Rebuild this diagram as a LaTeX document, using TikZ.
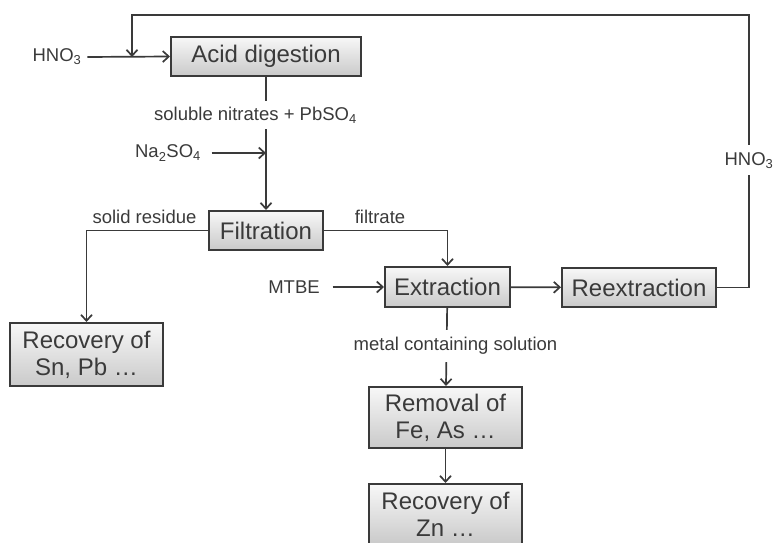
\documentclass[tikz,border=0pt]{standalone}
\usepackage{fontspec}
\setmainfont{Liberation Sans}
\usetikzlibrary{arrows.meta}
\definecolor{ink}{HTML}{3a3a3a}

\begin{document}
\begin{tikzpicture}[x=1pt, y=-1pt, color=ink, line width=1.7pt,
  >={Straight Barb[length=6pt, width=11pt]},
  box/.style={draw=ink, line width=2pt, top color=gray!6, bottom color=gray!42,
    font=\fontsize{24}{27}\selectfont, align=center, inner sep=0pt},
  lbl/.style={font=\fontsize{18.5}{22}\selectfont, inner sep=2pt}]
\useasboundingbox (0,0) rectangle (774,542);

\node[box, minimum width=190pt, minimum height=39pt] (acid) at (266,56.5) {Acid digestion};
\node[box, minimum width=114pt, minimum height=39pt] (filt) at (266,230.5) {Filtration};
\node[box, minimum width=125pt, minimum height=40pt] (extr) at (447.5,287) {Extraction};
\node[box, minimum width=154pt, minimum height=39pt] (reex) at (639,287.5) {Reextraction};
\node[box, minimum width=153pt, minimum height=63pt] (recsn) at (86.5,354.5) {Recovery of\\Sn, Pb \ldots};
\node[box, minimum width=153pt, minimum height=61pt] (remov) at (445.5,417.5) {Removal of\\Fe, As \ldots};
\node[box, minimum width=153pt, minimum height=61pt] (reczn) at (445.5,514.5) {Recovery of\\Zn \ldots};

\node[lbl] (hno3a) at (57,57) {HNO\textsubscript{3}};
\node[lbl] (na2so4) at (168,153) {Na\textsubscript{2}SO\textsubscript{4}};
\node[lbl] (mtbe) at (294,287) {MTBE};
\node[lbl] (solid) at (144.5,217) {solid residue};
\node[lbl] (filtr) at (380,217) {filtrate};

\coordinate (join) at (132,57);
\coordinate (naj) at (266,153);
\coordinate (topr) at (749,15);

% main flow
\draw[->, shorten <=3pt] (hno3a.east) -- (acid.west);
\draw[->] (acid) -- (filt);
\node[lbl, fill=white, inner ysep=6pt] (sol) at (255.5,115) {soluble nitrates + PbSO\textsubscript{4}};
\draw[->, shorten <=8pt] (na2so4.east) -- (naj);
\draw[->] (filt.west) -| (recsn.north);
\draw[->] (filt.east) -| (extr.north);
\draw[->, shorten <=10pt] (mtbe.east) -- (extr.west);
\draw[->] (extr) -- (reex);
\draw[->] (extr) -- (remov);
\node[lbl, fill=white, inner ysep=7pt] (metal) at (455.5,346) {metal containing solution};
\draw[->] (remov) -- (reczn);

% recycle
\draw[->] (reex.east) -- (reex.east -| topr)
  -- node[lbl, fill=white, pos=0.467, inner ysep=7pt] (hno3b) {HNO\textsubscript{3}} (topr) -| (join);
\end{tikzpicture}
\end{document}
